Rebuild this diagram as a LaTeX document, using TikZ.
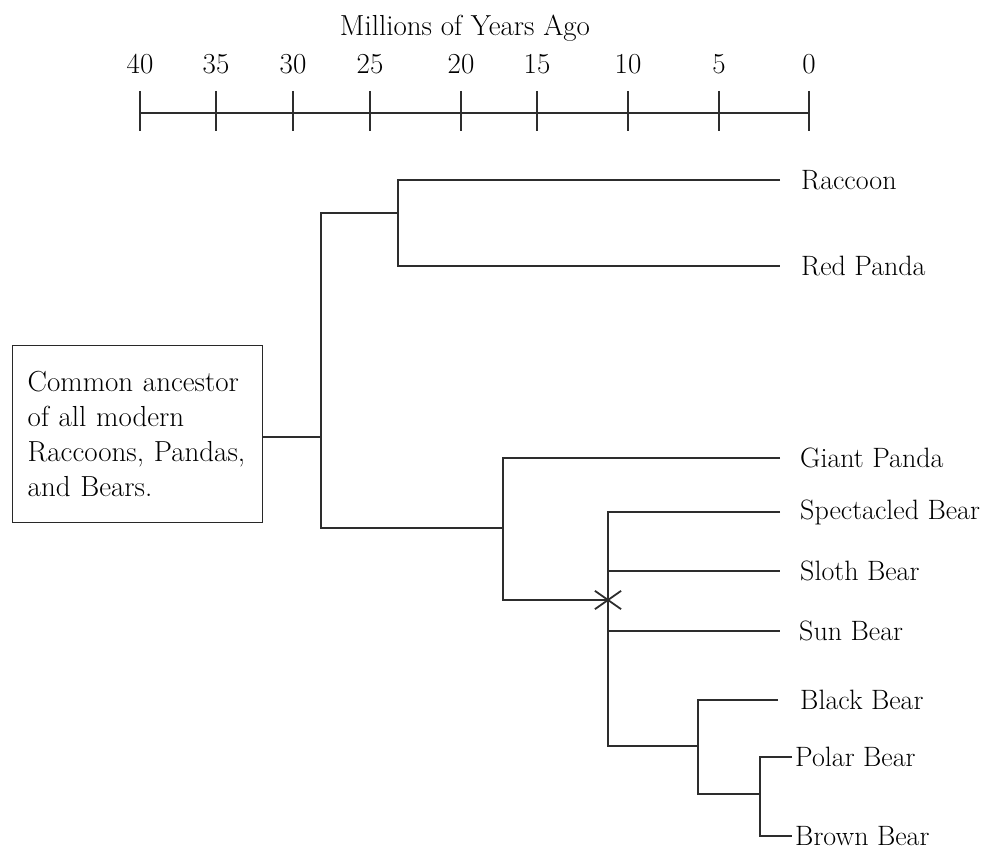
\documentclass[tikz,border=0pt]{standalone}
\usepackage{tikz}
\usetikzlibrary{positioning, calc}
\definecolor{treeclr}{RGB}{45, 45, 45}
\definecolor{boxclr}{RGB}{40, 40, 40}
\tikzset{
  % Daraxt chiziqlari
  treeline/.style = {draw=treeclr, line width=1.6pt},
  starline/.style = {draw=treeclr, line width=1.8pt},
  % Vaqt o'qi
  axisline/.style = {draw=treeclr, line width=2.6pt},
  tickline/.style = {draw=treeclr, line width=2.6pt},
  % Etiketlar
  leaflab/.style  = {inner sep=0pt, font=\fontsize{28}{32}\selectfont},
  ticklab/.style  = {inner sep=0pt, font=\fontsize{29}{33}\selectfont},
  ancbox/.style   = {draw=boxclr, line width=1.4pt, align=left, text width=220pt,
                     inner xsep=15pt, minimum height=177pt,
                     font=\fontsize{29}{35}\selectfont},
}
\begin{document}
\begin{tikzpicture}[x=1pt, y=-1pt]
  \useasboundingbox (0,0) rectangle (985,850);
  % Vaqt o'qi
  \node[ticklab] (title) at (465,28) {Millions of Years Ago};
  \coordinate (axL) at (140,113);
  \coordinate (axR) at (809,113);
  \draw[axisline] (axL) -- (axR);
  \foreach \x/\lab in {140/40, 216/35, 293/30, 370/25, 461/20, 537/15, 628/10, 719/5, 809/0} {
    \draw[tickline] (\x,91) -- (\x,131);
    \node[ticklab] (yr\lab) at (\x,64) {\lab};
  }
  % Tugunlar
  \coordinate (anc) at (321,437);
  \coordinate (rc) at (398,213);
  \coordinate (ur) at (503,528);
  \coordinate (bx) at (608,600);
  \coordinate (am) at (698,746);
  \coordinate (pb) at (760,794);
  % Barg uchlari
  \coordinate (tRaccoon) at (780,180);
  \coordinate (tRedPanda) at (780,266);
  \coordinate (tGiant) at (780,458);
  \coordinate (tSpect) at (780,512);
  \coordinate (tSloth) at (780,571);
  \coordinate (tSun) at (780,631);
  \coordinate (tBlack) at (778,700);
  \coordinate (tPolar) at (792,757);
  \coordinate (tBrown) at (792,836);
  % Ajdod
  \node[ancbox, anchor=north west] (ancestor) at (12,345)
    {Common ancestor\\of all modern\\Raccoons, Pandas,\\and Bears.};
  \draw[treeline] (ancestor.east |- anc) -- (anc);
  % Shoxlar
  \draw[treeline] (rc) -| (anc) |- (ur);
  \draw[treeline] (tRaccoon) -| (rc) |- (tRedPanda);
  \draw[treeline] (tGiant) -| (ur) |- (bx);
  \draw[treeline] (tSpect) -| (bx) |- (am);
  \draw[treeline] (bx |- tSloth) -- (tSloth);
  \draw[treeline] (bx |- tSun) -- (tSun);
  \draw[treeline] (tBlack) -| (am) |- (pb);
  \draw[treeline] (tPolar) -| (pb) |- (tBrown);
  \foreach \a in {35,90,145}
    \draw[starline] ($(bx)+(\a:16)$) -- ($(bx)+(\a+180:16)$);
  % Etiketlar
  \node[leaflab, right=21pt of tRaccoon] (raccoon) {Raccoon};
  \node[leaflab, right=21pt of tRedPanda] (redpanda) {Red Panda};
  \node[leaflab, right=20pt of tGiant] (giant) {Giant Panda};
  \node[leaflab, right=20pt of tSpect] (spect) {Spectacled Bear};
  \node[leaflab, right=20pt of tSloth] (sloth) {Sloth Bear};
  \node[leaflab, right=19pt of tSun] (sun) {Sun Bear};
  \node[leaflab, right=22pt of tBlack] (black) {Black Bear};
  \node[leaflab, right=3pt of tPolar] (polar) {Polar Bear};
  \node[leaflab, right=3pt of tBrown] (brown) {Brown Bear};
\end{tikzpicture}
\end{document}
